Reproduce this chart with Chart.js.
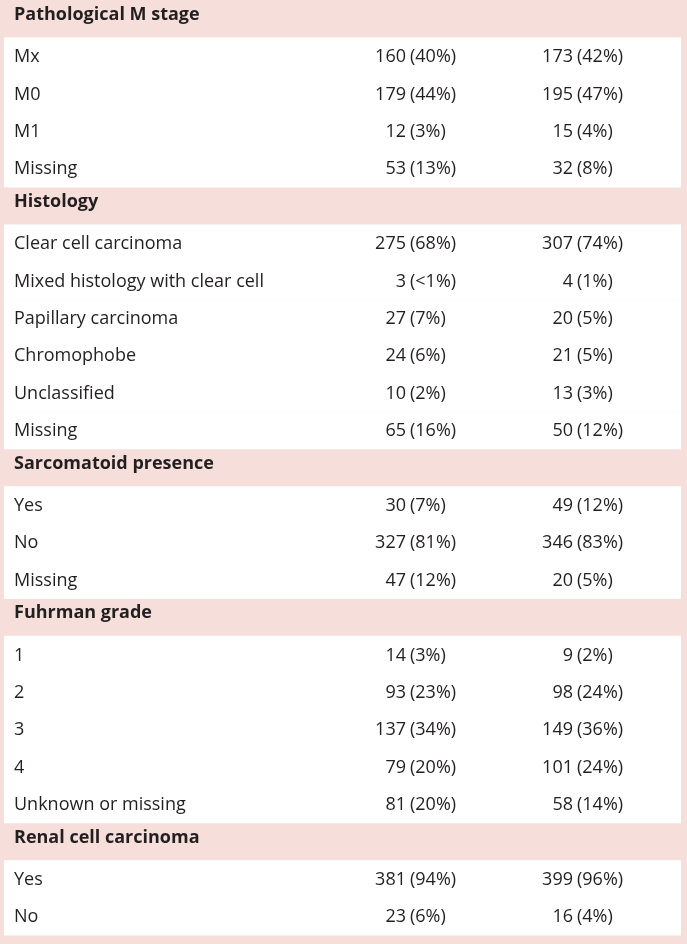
<!DOCTYPE html>
<html><head><meta charset="utf-8">
<script src="https://cdn.jsdelivr.net/npm/chart.js@4"></script>
<style>html,body{margin:0;padding:0;background:#f6dfdb}#wrap{width:687px;height:944px}</style>
</head><body><div id="wrap"><canvas id="c"></canvas></div>
<script>
/* ======== DATA ======== */
const sections = ['Pathological M stage','Histology','Sarcomatoid presence','Fuhrman grade','Renal cell carcinoma'];
const rowLabels = [
  ['Mx','M0','M1','Missing'],
  ['Clear cell carcinoma','Mixed histology with clear cell','Papillary carcinoma','Chromophobe','Unclassified','Missing'],
  ['Yes','No','Missing'],
  ['1','2','3','4','Unknown or missing'],
  ['Yes','No']
];
const groupA = [[160,179,12,53],[275,3,27,24,10,65],[30,327,47],[14,93,137,79,81],[381,23]];
const pctA   = [['40%','44%','3%','13%'],['68%','<1%','7%','6%','2%','16%'],['7%','81%','12%'],['3%','23%','34%','20%','20%'],['94%','6%']];
const groupB = [[173,195,15,32],[307,4,20,21,13,50],[49,346,20],[9,98,149,101,58],[399,16]];
const pctB   = [['42%','47%','4%','8%'],['74%','1%','5%','5%','3%','12%'],['12%','83%','5%'],['2%','24%','36%','24%','14%'],['96%','4%']];

/* ======== BUILD ROWS ======== */
const rows = [];
sections.forEach((s,i)=>{
  rows.push({type:'head', label:s});
  rowLabels[i].forEach((l,j)=> rows.push({type:'row', label:l, a:groupA[i][j], pa:pctA[i][j], b:groupB[i][j], pb:pctB[i][j]}));
});

const PINK = '#f6dfdb', INK = '#231f20';
const FONT = '"Open Sans", Lato, sans-serif';

const tablePlugin = {
  id:'table',
  beforeDraw(chart){
    const {ctx, scales:{y}} = chart;
    const half = Math.abs(y.getPixelForValue(1) - y.getPixelForValue(0))/2;
    ctx.save();
    ctx.fillStyle = PINK; ctx.fillRect(0,0,chart.width,chart.height);
    rows.forEach((r,i)=>{
      const cy = y.getPixelForValue(i);
      if(r.type==='row'){
        ctx.fillStyle = '#fff';
        ctx.fillRect(4, cy-half, 677, half*2+0.5);
      }
    });
    ctx.fillStyle = INK; ctx.textBaseline = 'middle';
    rows.forEach((r,i)=>{
      const cy = y.getPixelForValue(i);
      if(r.type==='head'){
        ctx.font = `bold 18px ${FONT}`; ctx.textAlign='left';
        ctx.fillText(r.label, 14, cy-4);
      } else {
        ctx.font = `18px ${FONT}`; ctx.textAlign='left';
        ctx.fillText(r.label, 14, cy+1);
        [[r.a,r.pa,406],[r.b,r.pb,573]].forEach(([n,p,x])=>{
          ctx.textAlign='right'; ctx.fillText(String(n), x, cy+1);
          ctx.textAlign='left'; ctx.fillText('('+p+')', x+4, cy+1);
        });
      }
    });
    ctx.restore();
  }
};

new Chart(document.getElementById('c'),{
  type:'scatter',
  data:{ datasets:[{ data: rows.map((r,i)=>({x:0,y:i})), pointRadius:0 }] },
  options:{
    responsive:true, maintainAspectRatio:false, animation:false,
    layout:{ padding:{ top:0, bottom:9, left:0, right:0 } },
    plugins:{ legend:{display:false}, tooltip:{enabled:false} },
    scales:{
      x:{ display:false, min:0, max:1 },
      y:{ display:false, reverse:true, min:-0.5, max:rows.length-0.5 }
    }
  },
  plugins:[tablePlugin]
});
</script></body></html>
